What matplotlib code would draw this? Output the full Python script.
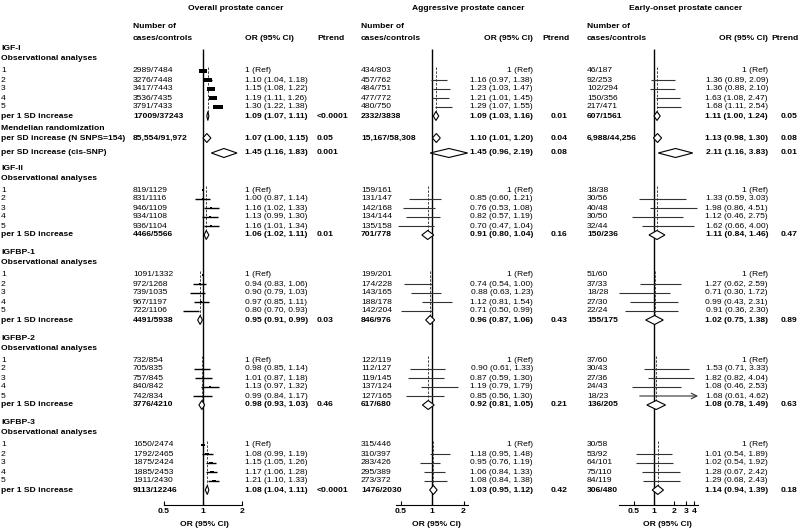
import numpy as np
import matplotlib
matplotlib.use("Agg")
import matplotlib.pyplot as plt
from matplotlib.ticker import NullLocator

plt.rcParams["font.family"] = ["Liberation Sans", "DejaVu Sans"]
FS = 6.1

# ---------------- data ----------------
BLOCKS = ["IGF-I", "IGF-II", "IGFBP-1", "IGFBP-2", "IGFBP-3"]
QUINTILES = ["1", "2", "3", "4", "5"]
PANEL_TITLES = ["Overall prostate cancer", "Aggressive prostate cancer", "Early-onset prostate cancer"]
MR_LABELS = ["per SD increase (N SNPS=154)", "per SD increase (cis-SNP)"]

# overall prostate cancer (quintiles 1-5, then per 1 SD increase)
overall_counts = [
    ["2989/7484", "3276/7448", "3417/7443", "3536/7435", "3791/7433", "17009/37243"],
    ["819/1129", "831/1116", "946/1109", "934/1108", "936/1104", "4466/5566"],
    ["1091/1332", "972/1268", "739/1035", "967/1197", "722/1106", "4491/5938"],
    ["732/854", "705/835", "757/845", "840/842", "742/834", "3776/4210"],
    ["1650/2474", "1792/2465", "1875/2424", "1885/2453", "1911/2430", "9113/12246"],
]
overall_or = [
    [1, 1.10, 1.15, 1.19, 1.30, 1.09],
    [1, 1.00, 1.16, 1.13, 1.16, 1.06],
    [1, 0.94, 0.90, 0.97, 0.80, 0.95],
    [1, 0.98, 1.01, 1.13, 0.99, 0.98],
    [1, 1.08, 1.15, 1.17, 1.21, 1.08],
]
overall_lo = [
    [None, 1.04, 1.08, 1.11, 1.22, 1.07],
    [None, 0.87, 1.02, 0.99, 1.01, 1.02],
    [None, 0.83, 0.79, 0.85, 0.70, 0.91],
    [None, 0.85, 0.87, 0.97, 0.84, 0.93],
    [None, 0.99, 1.05, 1.06, 1.10, 1.04],
]
overall_hi = [
    [None, 1.18, 1.22, 1.26, 1.38, 1.11],
    [None, 1.14, 1.33, 1.30, 1.34, 1.11],
    [None, 1.06, 1.03, 1.11, 0.93, 0.99],
    [None, 1.14, 1.18, 1.32, 1.17, 1.03],
    [None, 1.19, 1.26, 1.28, 1.33, 1.11],
]
overall_p = ["<0.0001", "0.01", "0.03", "0.46", "<0.0001"]
overall_mr_counts = ["85,554/91,972", ""]
overall_mr_or = [1.07, 1.45]
overall_mr_lo = [1.00, 1.16]
overall_mr_hi = [1.15, 1.83]
overall_mr_p = ["0.05", "0.001"]

# aggressive prostate cancer
aggr_counts = [
    ["434/803", "457/762", "484/751", "477/772", "480/750", "2332/3838"],
    ["159/161", "131/147", "142/168", "134/144", "135/158", "701/778"],
    ["199/201", "174/228", "143/165", "188/178", "142/204", "846/976"],
    ["122/119", "112/127", "119/145", "137/124", "127/165", "617/680"],
    ["315/446", "310/397", "283/426", "295/389", "273/372", "1476/2030"],
]
aggr_or = [
    [1, 1.16, 1.23, 1.21, 1.29, 1.09],
    [1, 0.85, 0.76, 0.82, 0.70, 0.91],
    [1, 0.74, 0.88, 1.12, 0.71, 0.96],
    [1, 0.90, 0.87, 1.19, 0.85, 0.92],
    [1, 1.18, 0.95, 1.06, 1.08, 1.03],
]
aggr_lo = [
    [None, 0.97, 1.03, 1.01, 1.07, 1.03],
    [None, 0.60, 0.53, 0.57, 0.47, 0.80],
    [None, 0.54, 0.63, 0.81, 0.50, 0.87],
    [None, 0.61, 0.59, 0.79, 0.56, 0.81],
    [None, 0.95, 0.76, 0.84, 0.84, 0.95],
]
aggr_hi = [
    [None, 1.38, 1.47, 1.45, 1.55, 1.16],
    [None, 1.21, 1.08, 1.19, 1.04, 1.04],
    [None, 1.00, 1.23, 1.54, 0.99, 1.06],
    [None, 1.33, 1.30, 1.79, 1.30, 1.05],
    [None, 1.48, 1.19, 1.33, 1.38, 1.12],
]
aggr_p = ["0.01", "0.16", "0.43", "0.21", "0.42"]
aggr_mr_counts = ["15,167/58,308", ""]
aggr_mr_or = [1.10, 1.45]
aggr_mr_lo = [1.01, 0.96]
aggr_mr_hi = [1.20, 2.19]
aggr_mr_p = ["0.04", "0.08"]

# early-onset prostate cancer
early_counts = [
    ["46/187", "92/253", "102/294", "150/356", "217/471", "607/1561"],
    ["18/38", "30/56", "40/48", "30/50", "32/44", "150/236"],
    ["51/60", "37/33", "18/28", "27/30", "22/24", "155/175"],
    ["37/60", "30/43", "27/36", "24/43", "18/23", "136/205"],
    ["30/58", "53/92", "64/101", "75/110", "84/119", "306/480"],
]
early_or = [
    [1, 1.36, 1.36, 1.63, 1.68, 1.11],
    [1, 1.33, 1.98, 1.12, 1.62, 1.11],
    [1, 1.27, 0.71, 0.99, 0.91, 1.02],
    [1, 1.53, 1.82, 1.08, 1.68, 1.08],
    [1, 1.01, 1.02, 1.28, 1.29, 1.14],
]
early_lo = [
    [None, 0.89, 0.88, 1.08, 1.11, 1.00],
    [None, 0.59, 0.86, 0.46, 0.66, 0.84],
    [None, 0.62, 0.30, 0.43, 0.36, 0.75],
    [None, 0.71, 0.82, 0.46, 0.61, 0.78],
    [None, 0.54, 0.54, 0.67, 0.68, 0.94],
]
early_hi = [
    [None, 2.09, 2.10, 2.47, 2.54, 1.24],
    [None, 3.03, 4.51, 2.75, 4.00, 1.46],
    [None, 2.59, 1.72, 2.31, 2.30, 1.38],
    [None, 3.33, 4.04, 2.53, 4.62, 1.49],
    [None, 1.89, 1.92, 2.42, 2.43, 1.39],
]
early_p = ["0.05", "0.47", "0.89", "0.63", "0.18"]
early_mr_counts = ["6,988/44,256", ""]
early_mr_or = [1.13, 2.11]
early_mr_lo = [0.98, 1.16]
early_mr_hi = [1.30, 3.83]
early_mr_p = ["0.08", "0.01"]

# ---------------- layout (pixels) ----------------
W, H = 799, 531
AXIS_Y = 505
MR_Y = [138, 153]


def block_top(b):
    return 49 if b == 0 else 168 + 85 * (b - 1)


def row_y(b, k):
    return block_top(b) + 22 + 9 * k


panels = [
    dict(counts=overall_counts, est=overall_or, lo=overall_lo, hi=overall_hi, p=overall_p,
         mr_counts=overall_mr_counts, mr_est=overall_mr_or, mr_lo=overall_mr_lo,
         mr_hi=overall_mr_hi, mr_p=overall_mr_p,
         x1=203, ppd=39, lims=(0.5, 2), ticks=[0.5, 1, 2],
         count_x=133, or_x=245, or_ha="left", phead_x=317, p_x=317,
         title_x=236, xlabel_x=204, lw=1.0, col="black"),
    dict(counts=aggr_counts, est=aggr_or, lo=aggr_lo, hi=aggr_hi, p=aggr_p,
         mr_counts=aggr_mr_counts, mr_est=aggr_mr_or, mr_lo=aggr_mr_lo,
         mr_hi=aggr_mr_hi, mr_p=aggr_mr_p,
         x1=432, ppd=31.5, lims=(0.45, 2.2), ticks=[0.5, 1, 2],
         count_x=361, or_x=533, or_ha="right", phead_x=542, p_x=551,
         title_x=468, xlabel_x=436, lw=0.8, col="#333333"),
    dict(counts=early_counts, est=early_or, lo=early_lo, hi=early_hi, p=early_p,
         mr_counts=early_mr_counts, mr_est=early_mr_or, mr_lo=early_mr_lo,
         mr_hi=early_mr_hi, mr_p=early_mr_p,
         x1=654, ppd=20, lims=(0.3, 4.6), ticks=[0.5, 1, 2, 3, 4],
         count_x=587, or_x=768, or_ha="right", phead_x=771, p_x=781,
         title_x=686, xlabel_x=667, lw=0.8, col="#333333"),
]

RECT = [(-1, -0.5), (1, -0.5), (1, 0.5), (-1, 0.5)]


def fmt_or(e, l, h):
    if l is None:
        return "1 (Ref)"
    return f"{e:.2f} ({l:.2f}, {h:.2f})"


fig = plt.figure(figsize=(W / 100, H / 100), dpi=100)
bg = fig.add_axes([0, 0, 1, 1])
bg.set_xlim(0, W)
bg.set_ylim(H, 0)
bg.axis("off")


def txt(x, y, s, bold=False, ha="left"):
    bg.text(x, y, s, fontsize=FS, ha=ha, va="center",
            fontweight="bold" if bold else "normal")


# label column
for b, name in enumerate(BLOCKS):
    txt(1, block_top(b), name, bold=True)
    txt(1, block_top(b) + 10, "Observational analyses", bold=True)
    for k, q in enumerate(QUINTILES):
        txt(1, row_y(b, k), q)
    txt(1, row_y(b, 5), "per 1 SD increase", bold=True)
txt(1, 129, "Mendelian randomization", bold=True)
for y, lab in zip(MR_Y, MR_LABELS):
    txt(1, y, lab, bold=True)

for P, title in zip(panels, PANEL_TITLES):
    txt(P["title_x"], 8, title, bold=True, ha="center")
    txt(P["count_x"], 26, "Number of", bold=True)
    txt(P["count_x"], 38, "cases/controls", bold=True)
    txt(P["or_x"], 38, "OR (95% CI)", bold=True, ha=P["or_ha"])
    txt(P["phead_x"], 38, "Ptrend", bold=True)
    txt(P["xlabel_x"], 525, "OR (95% CI)", bold=True, ha="center")

    lo_lim, hi_lim = P["lims"]
    left = P["x1"] + P["ppd"] * np.log2(lo_lim)
    width = P["ppd"] * np.log2(hi_lim / lo_lim)
    ax = fig.add_axes([left / W, (H - AXIS_Y) / H, width / W, AXIS_Y / H])
    ax.set_xscale("log")
    ax.set_xlim(lo_lim, hi_lim)
    ax.set_ylim(AXIS_Y, 0)
    ax.patch.set_alpha(0)
    for s in ["left", "right", "top"]:
        ax.spines[s].set_visible(False)
    ax.spines["bottom"].set_linewidth(0.8)
    ax.set_yticks([])
    ax.set_xticks(P["ticks"], labels=[f"{t:g}" for t in P["ticks"]])
    ax.xaxis.set_minor_locator(NullLocator())
    ax.tick_params(axis="x", direction="in", length=3, width=0.8, pad=2, labelsize=FS)
    for lab in ax.get_xticklabels():
        lab.set_fontweight("bold")

    ax.vlines(1, 49, AXIS_Y, color="black", lw=1.0, zorder=2)

    for b in range(len(BLOCKS)):
        est, lo, hi = P["est"][b], P["lo"][b], P["hi"][b]
        ax.vlines(est[5], row_y(b, 0) - 4, row_y(b, 5) - 4, color="#444444",
                  lw=0.7, linestyles=(0, (2.5, 1.5)), zorder=2)
        for k in range(6):
            y = row_y(b, k)
            txt(P["count_x"], y, P["counts"][b][k], bold=(k == 5))
            txt(P["or_x"], y, fmt_or(est[k], lo[k], hi[k]), bold=(k == 5), ha=P["or_ha"])
            if k == 5:
                ax.fill([lo[k], est[k], hi[k], est[k]], [y, y - 4.5, y, y + 4.5],
                        facecolor="white", edgecolor="black", lw=0.8, zorder=4)
                continue
            if lo[k] is not None:
                if hi[k] > hi_lim:
                    ax.annotate("", xy=(hi_lim, y), xytext=(lo[k], y),
                                arrowprops=dict(arrowstyle="->", lw=P["lw"],
                                                color=P["col"], shrinkA=0, shrinkB=0))
                else:
                    ax.hlines(y, lo[k], hi[k], color=P["col"], lw=P["lw"], zorder=3)
            cases = int(P["counts"][b][k].split("/")[0])
            size_px = max(1.6, cases / 400)
            ax.plot(est[k], y, marker=RECT, ms=size_px / 1.389, color="black",
                    mec="black", mew=0, ls="none", zorder=5)
        txt(P["p_x"], row_y(b, 5), P["p"][b], bold=True)

    for j, y in enumerate(MR_Y):
        e, l, h = P["mr_est"][j], P["mr_lo"][j], P["mr_hi"][j]
        ax.fill([l, e, h, e], [y, y - 4.5, y, y + 4.5],
                facecolor="white", edgecolor="black", lw=0.8, zorder=4)
        txt(P["count_x"], y, P["mr_counts"][j], bold=True)
        txt(P["or_x"], y, fmt_or(e, l, h), bold=True, ha=P["or_ha"])
        txt(P["p_x"], y, P["mr_p"][j], bold=True)

fig.savefig("out.png", dpi=100)
